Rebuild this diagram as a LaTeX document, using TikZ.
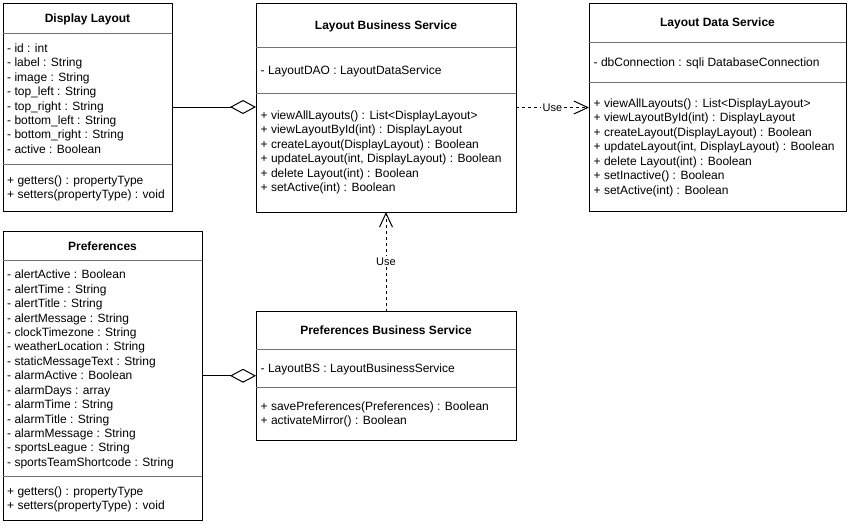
\documentclass[tikz,border=0pt]{standalone}
\usepackage{fontspec}
\setmainfont{Liberation Sans}
\usetikzlibrary{arrows.meta}
\tikzset{
  cls/.style={draw=black, line width=1pt, anchor=north west, inner sep=0pt, outer sep=0pt, fill=white},
  divider/.style={draw=black!55, line width=1pt},
  txt/.style={anchor=base west, inner sep=0pt, font=\fontsize{12}{14.4}\selectfont},
  ttl/.style={anchor=base, inner sep=0pt, font=\fontsize{12}{14.4}\selectfont\bfseries},
  agg/.style={line width=1pt, -{Diamond[open, length=26pt, width=14pt, line width=1pt]}},
  usearrow/.style={line width=1pt, dash pattern=on 3pt off 3pt, -{Straight Barb[length=14pt, width=13pt, line width=1pt]}},
  lbl/.style={fill=white, inner sep=1.5pt, font=\fontsize{11}{13}\selectfont}
}
\begin{document}
\begin{tikzpicture}[x=1pt,y=-1pt]
\useasboundingbox (0,0) rectangle (848,531);

% ---------- Display Layout ----------
\node[cls, minimum width=169pt, minimum height=208pt] (dl) at (3,3) {};
\draw[divider] (3,33) -- (172,33);
\draw[divider] (3,164) -- (172,164);
\node[ttl] (dlt) at (87.5,22.2) {Display Layout};
\foreach \t [count=\i from 0] in {{- id : int},{- label : String},{- image : String},{- top\_left : String},{- top\_right : String},{- bottom\_left : String},{- bottom\_right : String},{- active : Boolean}}
  \node[txt] (dla\i) at (7,{52.3+14.43*\i}) {\t};
\foreach \t [count=\i from 0] in {{+ getters() : propertyType},{+ setters(propertyType) : void}}
  \node[txt] (dlm\i) at (7,{184.5+14.4*\i}) {\t};

% ---------- Layout Business Service ----------
\node[cls, minimum width=260pt, minimum height=209pt] (lbs) at (256,3) {};
\draw[divider] (256,47.5) -- (516,47.5);
\draw[divider] (256,93) -- (516,93);
\node[ttl] (lbst) at (386,29.4) {Layout Business Service};
\node[txt] (lbsa0) at (260.5,74.6) {- LayoutDAO : LayoutDataService};
\foreach \t [count=\i from 0] in {{+ viewAllLayouts() : List<DisplayLayout>},{+ viewLayoutById(int) : DisplayLayout},{+ createLayout(DisplayLayout) : Boolean},{+ updateLayout(int, DisplayLayout) : Boolean},{+ delete Layout(int) : Boolean},{+ setActive(int) : Boolean}}
  \node[txt] (lbsm\i) at (260.5,{119.5+14.43*\i}) {\t};

% ---------- Layout Data Service ----------
\node[cls, minimum width=257pt, minimum height=208pt] (lds) at (589,3) {};
\draw[divider] (589,42.5) -- (846,42.5);
\draw[divider] (589,82.5) -- (846,82.5);
\node[ttl] (ldst) at (717.5,26.5) {Layout Data Service};
\node[txt] (ldsa0) at (593.5,66.4) {- dbConnection : sqli DatabaseConnection};
\foreach \t [count=\i from 0] in {{+ viewAllLayouts() : List<DisplayLayout>},{+ viewLayoutById(int) : DisplayLayout},{+ createLayout(DisplayLayout) : Boolean},{+ updateLayout(int, DisplayLayout) : Boolean},{+ delete Layout(int) : Boolean},{+ setInactive() : Boolean},{+ setActive(int) : Boolean}}
  \node[txt] (ldsm\i) at (593.5,{107.5+14.43*\i}) {\t};

% ---------- Preferences ----------
\node[cls, minimum width=199pt, minimum height=288.5pt] (pref) at (3,231.5) {};
\draw[divider] (3,260.5) -- (202,260.5);
\draw[divider] (3,476) -- (202,476);
\node[ttl] (preft) at (102.5,250.2) {Preferences};
\foreach \t [count=\i from 0] in {{- alertActive : Boolean},{- alertTime : String},{- alertTitle : String},{- alertMessage : String},{- clockTimezone : String},{- weatherLocation : String},{- staticMessageText : String},{- alarmActive : Boolean},{- alarmDays : array},{- alarmTime : String},{- alarmTitle : String},{- alarmMessage : String},{- sportsLeague : String},{- sportsTeamShortcode : String}}
  \node[txt] (prefa\i) at (7,{278.8+14.43*\i}) {\t};
\foreach \t [count=\i from 0] in {{+ getters() : propertyType},{+ setters(propertyType) : void}}
  \node[txt] (prefm\i) at (7,{495+14.4*\i}) {\t};

% ---------- Preferences Business Service ----------
\node[cls, minimum width=260pt, minimum height=128.5pt] (pbs) at (256,311.5) {};
\draw[divider] (256,349.5) -- (516,349.5);
\draw[divider] (256,387.5) -- (516,387.5);
\node[ttl] (pbst) at (386,334.7) {Preferences Business Service};
\node[txt] (pbsa0) at (260.5,372.7) {- LayoutBS : LayoutBusinessService};
\foreach \t [count=\i from 0] in {{+ savePreferences(Preferences) : Boolean},{+ activateMirror() : Boolean}}
  \node[txt] (pbsm\i) at (260.5,{410.5+14.4*\i}) {\t};

% ---------- Connectors ----------
\draw[agg] (dl.east) -- (dl.east -| lbs.west);
\draw[agg] (pref.east) -- (pref.east -| pbs.west);
\draw[usearrow] (lbs.east) -- (lbs.east -| lds.west) node[midway, lbl] (use1) {Use};
\draw[usearrow] (pbs.north) -- (lbs.south) node[midway, lbl] (use2) {Use};
\end{tikzpicture}
\end{document}
